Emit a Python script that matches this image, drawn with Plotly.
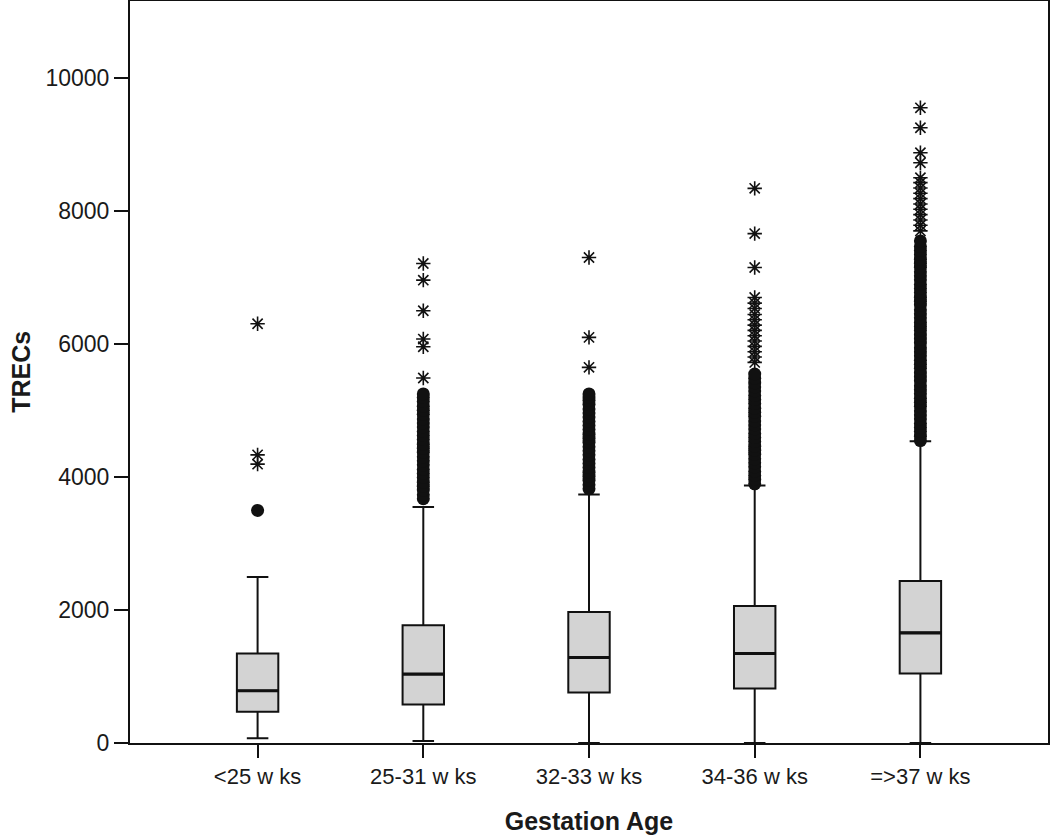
import plotly.graph_objects as go

categories = ["<25 w ks", "25-31 w ks", "32-33 w ks", "34-36 w ks", "=>37 w ks"]
q1 = [470, 580, 760, 820, 1045]
median = [785, 1035, 1285, 1345, 1655]
q3 = [1345, 1770, 1970, 2060, 2435]
lower_whisker = [70, 30, 0, 0, 0]
upper_whisker = [2495, 3545, 3735, 3870, 4535]

# mild outliers (circles)
circles_lt25 = [3495]
circles_25_31 = [3670, 3730, 3800, 3860, 3920, 3990, 4050, 4110, 4180, 4240, 4300, 4370,
                 4430, 4490, 4560, 4620, 4680, 4750, 4810, 4870, 4940, 5000, 5060, 5130,
                 5190, 5245]
circles_32_33 = [3820, 3880, 3950, 4010, 4070, 4140, 4200, 4260, 4330, 4390, 4450, 4520,
                 4580, 4640, 4710, 4770, 4830, 4900, 4960, 5020, 5090, 5150, 5200, 5245]
circles_34_36 = [3895, 3960, 4020, 4080, 4150, 4210, 4270, 4340, 4400, 4460, 4530, 4590,
                 4650, 4720, 4780, 4840, 4910, 4970, 5030, 5100, 5160, 5220, 5290, 5350,
                 5410, 5480, 5545]
circles_ge37 = [4545, 4610, 4680, 4740, 4800, 4870, 4930, 4990, 5060, 5120, 5180, 5250,
                5310, 5370, 5440, 5500, 5560, 5630, 5690, 5750, 5820, 5880, 5940, 6010,
                6070, 6130, 6200, 6260, 6320, 6390, 6450, 6510, 6580, 6640, 6700, 6770,
                6830, 6890, 6960, 7020, 7080, 7150, 7210, 7270, 7340, 7400, 7460, 7545]

# extreme outliers (stars)
stars_lt25 = [4190, 4330, 6300]
stars_25_31 = [5485, 5955, 6070, 6495, 6955, 7205]
stars_32_33 = [5645, 6095, 7295]
stars_34_36 = [5720, 5800, 5880, 5960, 6040, 6120, 6200, 6280, 6360, 6440, 6530, 6610,
               6695, 7145, 7655, 8335]
stars_ge37 = [7695, 7780, 7860, 7940, 8020, 8100, 8180, 8260, 8340, 8420, 8495, 8720,
              8870, 9245, 9545]

circles = [circles_lt25, circles_25_31, circles_32_33, circles_34_36, circles_ge37]
stars = [stars_lt25, stars_25_31, stars_32_33, stars_34_36, stars_ge37]

fig = go.Figure()

fig.add_trace(go.Box(
    x=categories, q1=q1, median=median, q3=q3,
    lowerfence=lower_whisker, upperfence=upper_whisker,
    width=0.25, whiskerwidth=0.52,
    fillcolor="#d3d3d3", line=dict(color="#111111", width=2),
    boxpoints=False, showlegend=False, hoverinfo="skip",
))

# thicker median line (degenerate box at the median)
fig.add_trace(go.Box(
    x=categories, q1=median, median=median, q3=median,
    lowerfence=median, upperfence=median,
    width=0.25, whiskerwidth=0,
    fillcolor="#111111", line=dict(color="#111111", width=3.2),
    boxpoints=False, showlegend=False, hoverinfo="skip",
))

cx, cy = [], []
for cat, vals in zip(categories, circles):
    cx += [cat] * len(vals)
    cy += vals
fig.add_trace(go.Scatter(
    x=cx, y=cy, mode="markers", showlegend=False, hoverinfo="skip",
    marker=dict(symbol="circle", size=13, color="#111111", line=dict(width=0)),
))

sx, sy = [], []
for cat, vals in zip(categories, stars):
    sx += [cat] * len(vals)
    sy += vals
fig.add_trace(go.Scatter(
    x=sx, y=sy, mode="markers", showlegend=False, hoverinfo="skip",
    marker=dict(symbol="asterisk-open", size=12, color="#111111",
                line=dict(width=1.6, color="#111111")),
))

font_family = "Liberation Sans, Arial, sans-serif"
fig.update_layout(
    width=1050, height=840,
    margin=dict(l=130, r=2, t=1, b=97),
    paper_bgcolor="white", plot_bgcolor="white",
    boxmode="overlay",
    font=dict(family=font_family, color="#1a1a1a", size=22),
    xaxis=dict(
        type="category", range=[-0.77, 4.77], automargin=False,
        showline=True, linecolor="#111111", linewidth=2, mirror=True,
        ticks="outside", ticklen=13, tickwidth=1.5, tickcolor="#111111",
        showgrid=False, zeroline=False,
        tickfont=dict(size=22, family=font_family),
        title=dict(text="<b>Gestation Age</b>", font=dict(size=25, family=font_family), standoff=24),
    ),
    yaxis=dict(
        range=[0, 11150], tickmode="array", tickvals=[0, 2000, 4000, 6000, 8000, 10000],
        ticktext=["0", "2000", "4000", "6000", "8000", "10000"], automargin=False,
        showline=True, linecolor="#111111", linewidth=2, mirror=True,
        ticks="outside", ticklen=14, tickwidth=1.5, tickcolor="#111111",
        showgrid=False, zeroline=False,
        tickfont=dict(size=23, family=font_family),
    ),
    annotations=[dict(
        text="<b>TRECs</b>", xref="paper", yref="paper", x=-0.119, y=0.5,
        xanchor="center", yanchor="middle", textangle=-90, showarrow=False,
        font=dict(size=25, family=font_family, color="#1a1a1a"),
    )],
)

fig.write_html("out.html", config={"displayModeBar": False},
               post_script="document.body.style.margin='0px';")
